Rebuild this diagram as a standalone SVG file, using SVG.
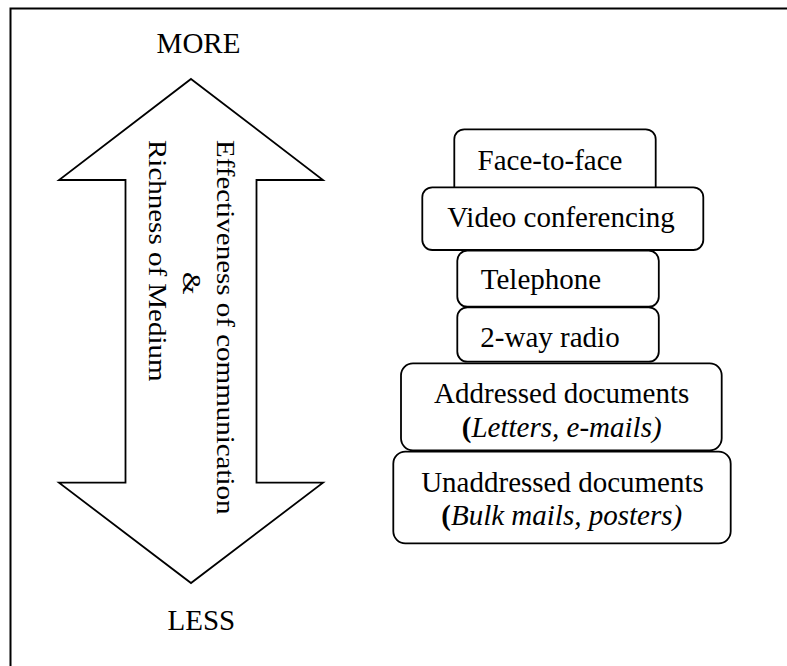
<svg xmlns="http://www.w3.org/2000/svg" width="787" height="666" viewBox="0 0 787 666">
<style>
text{font-family:"Liberation Serif","Times New Roman",serif;font-size:29px;fill:#000}
.box{fill:#fff;stroke:#000;stroke-width:1.8}
.c{text-anchor:middle}
.arrow{fill:#fff;stroke:#000;stroke-width:1.8;stroke-linejoin:miter}
</style>
<rect width="787" height="666" fill="#fff"/>
<path d="M10.5 666 V8.5 H787" fill="none" stroke="#000" stroke-width="2"/>
<g id="labels">
<text class="c" x="198.5" y="53">MORE</text>
<text class="c" x="201.3" y="630">LESS</text>
</g>
<g id="arrow">
<path class="arrow" d="M191 79 L323 180 L256.5 180 L256.5 482.7 L323 482.7 L191 583 L59 482.7 L125.5 482.7 L125.5 180 L59 180 Z"/>
<text transform="translate(217,140) rotate(90) scale(1,0.84)">Effectiveness of communication</text>
<text transform="translate(183,272) rotate(90) scale(1,0.84)">&amp;</text>
<text transform="translate(148.5,140) rotate(90) scale(1,0.84)">Richness of Medium</text>
</g>
<g id="face-to-face">
<rect class="box" x="454.3" y="129.3" width="201.4" height="70" rx="10"/>
<text class="c" x="550" y="170">Face-to-face</text>
</g>
<g id="video-conferencing">
<rect class="box" x="422.3" y="187.3" width="281" height="62.7" rx="10"/>
<text class="c" x="561" y="226.7">Video conferencing</text>
</g>
<g id="telephone">
<rect class="box" x="457.3" y="250.7" width="201.5" height="56" rx="10"/>
<text class="c" x="541" y="289.3">Telephone</text>
</g>
<g id="two-way-radio">
<rect class="box" x="457.3" y="307.3" width="201.5" height="54.4" rx="10"/>
<text class="c" x="550" y="346.7">2-way radio</text>
</g>
<g id="addressed-documents">
<rect class="box" x="401" y="363.3" width="320.7" height="87" rx="12"/>
<text class="c" x="561.7" y="403.3">Addressed documents</text>
<text class="c" x="561.7" y="437.3"><tspan font-weight="bold">(</tspan><tspan font-style="italic">Letters, e-mails)</tspan></text>
</g>
<g id="unaddressed-documents">
<rect class="box" x="393.3" y="451.7" width="337.4" height="91.6" rx="12"/>
<text class="c" x="562.5" y="491.7">Unaddressed documents</text>
<text class="c" x="561.7" y="525"><tspan font-weight="bold">(</tspan><tspan font-style="italic">Bulk mails, posters)</tspan></text>
</g>
</svg>
